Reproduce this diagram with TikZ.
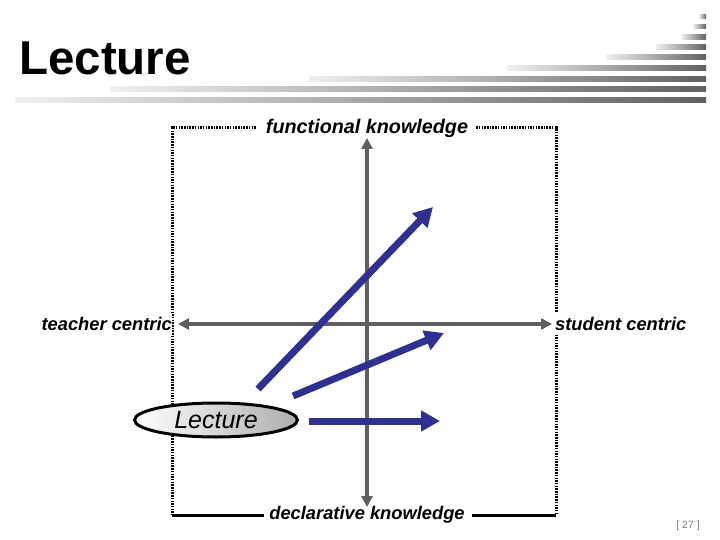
\documentclass[tikz,border=0pt]{standalone}
\usepackage{fontspec}
\setmainfont{Liberation Sans}
\usetikzlibrary{arrows.meta,positioning,shapes.geometric}
\definecolor{axisgray}{HTML}{5F5F5F}
\definecolor{shiftblue}{HTML}{2F3192}
\newcommand{\lbl}{\fontsize{18.3}{22}\selectfont\bfseries\itshape}

\begin{document}
\begin{tikzpicture}[x=1pt,y=-1pt,
  axisline/.style={line width=3.5pt,draw=axisgray,{Triangle[length=11pt,width=11pt]}-{Triangle[length=11pt,width=11pt]}},
  shiftarrow/.style={line width=7pt,draw=shiftblue,-{Triangle[length=19pt,width=20pt]}},
  dotframe/.style={line width=3pt,dash pattern=on 1.5pt off 1.2pt},
  solidframe/.style={line width=3pt},
  stripe/.style={left color=gray!12,right color=black!62,draw=none}]
\useasboundingbox (0,0) rectangle (720,540);
%
% title with the grey stripes
\node (title) [anchor=base west,inner sep=0pt,font=\fontsize{47.5}{50}\selectfont\bfseries] at (19,75) {Lecture};
\foreach \sx/\sy in {699/16.7,693/26.7,681/37.3,656/47.3,606/57.3,507/68.3,309/79.3,110/89.3,15/100}
  \shade[stripe] ({\sx},{\sy-2.3}) rectangle (706,{\sy+2.3});
%
% frame
\coordinate (tl) at (172,128);
\coordinate (tr) at (556,128);
\coordinate (bl) at (172,515);
\coordinate (br) at (556,515);
\node (fk) [font=\lbl,scale=1.08,inner sep=0pt] at (367,128) {functional knowledge};
\node (dk) [font=\lbl,inner sep=0pt] at (367,515) {declarative knowledge};
\draw[dotframe] ([xshift=-10pt]fk.west) -- (tl) -- (bl);
\draw[dotframe] ([xshift=8pt]fk.east) -- (tr) -- (br);
\draw[solidframe] (bl) -- ([xshift=-5pt]dk.west);
\draw[solidframe] (br) -- ([xshift=7pt]dk.east);
%
% axes
\coordinate (ytop) at (367,138);
\coordinate (ybot) at (367,507);
\coordinate (xl) at (178,324);
\coordinate (xr) at (552,324);
\draw[axisline] (ybot) -- (ytop);
\draw[axisline] (xl) -- (xr);
\node (tc) [font=\lbl,fill=white,inner xsep=0pt,inner ysep=4pt,left=6pt of xl] {teacher centric};
\node (sc) [font=\lbl,fill=white,inner xsep=0pt,inner ysep=4pt,right=3pt of xr] {student centric};
%
% lecture and its moves
\node (lec) [ellipse,draw,line width=3pt,minimum width=163pt,minimum height=34pt,inner sep=0pt,
  left color=white,right color=black!32,font=\fontsize{25}{28}\selectfont\itshape] at (216,420) {Lecture};
\coordinate (m1s) at (258,389);
\coordinate (m1e) at (433,207);
\coordinate (m2s) at (293,396);
\coordinate (m2e) at (444,333);
\coordinate (m3s) at (309,421);
\coordinate (m3e) at (440,421);
\draw[shiftarrow] (m1s) -- (m1e);
\draw[shiftarrow] (m2s) -- (m2e);
\draw[shiftarrow] (m3s) -- (m3e);
%
\node (pg) [font=\fontsize{10.5}{12}\selectfont,text=gray] at (688,526) {[ 27 ]};
\end{tikzpicture}
\end{document}
